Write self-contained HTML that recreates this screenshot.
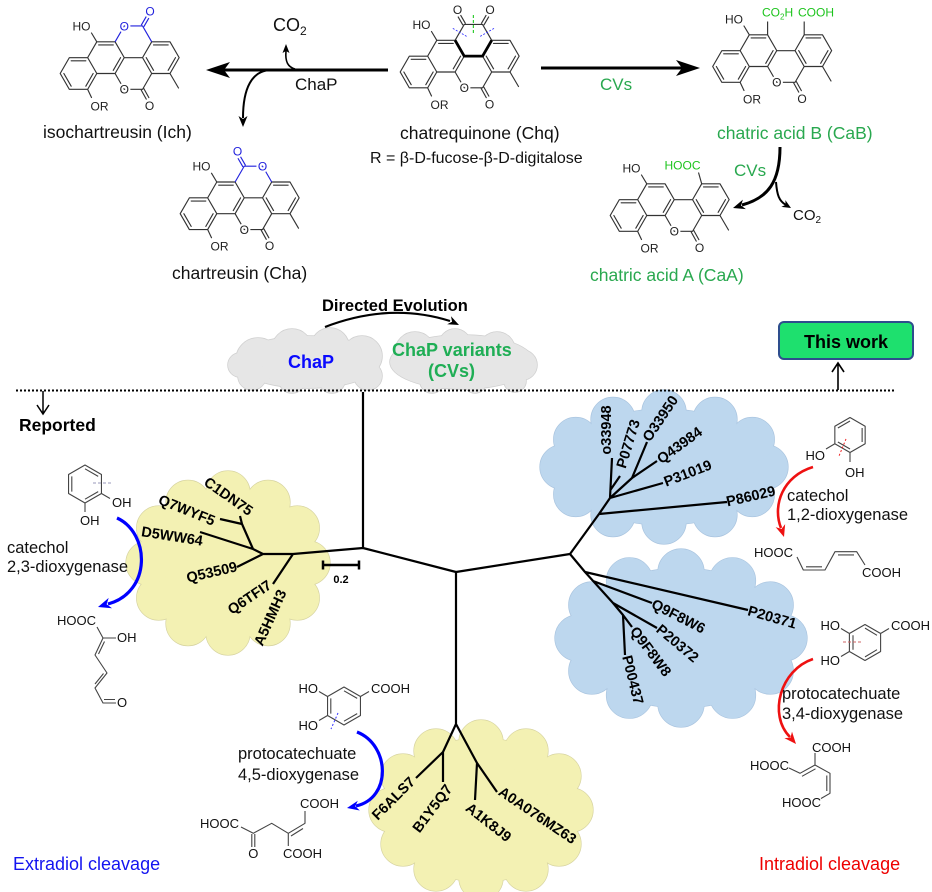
<!DOCTYPE html>
<html><head><meta charset="utf-8">
<style>
body{margin:0;background:#fff}
svg{display:block}
text{font-family:"Liberation Sans",Arial,sans-serif}
.tl{font-weight:bold;font-size:14.5px;fill:#000}
</style></head>
<body>
<svg width="932" height="892" viewBox="0 0 932 892" xmlns="http://www.w3.org/2000/svg">
<defs>
<g id="core" fill="none" stroke="#333" stroke-width="1.15" stroke-linecap="round" stroke-linejoin="round">
<path d="M-18.3,0 L-9.15,-15.85 L9.15,-15.85 L18.3,0 L9.15,15.85 L-9.15,15.85 Z M9.15,-15.85 L18.3,-31.7 L36.6,-31.7 L45.75,-15.85 L36.6,0 L18.3,0 M36.6,0 L45.75,15.85 L64.05,15.85 L73.2,0 L64.05,-15.85 L45.75,-15.85 M64.05,-15.85 L73.2,-31.7 L91.5,-31.7 L100.65,-15.85 L91.5,0 L73.2,0 M-7.32,-12.68 L7.32,-12.68 M14.64,0 L7.32,12.68 M-7.32,12.68 L-14.64,0 M20.13,-28.53 L34.77,-28.53 M42.09,-15.85 L34.77,-3.17 M75.03,-28.53 L89.67,-28.53 M96.99,-15.85 L89.67,-3.17 M75.03,-3.17 L67.71,-15.85 M18.3,-31.7 L13,-40.5 M9.15,15.85 L13,24 M91.5,0 L100,14.5 M65.35,15.1 L70.35,24.1 M62.75,16.6 L67.75,25.6"/>
</g>
<g id="coretext" font-size="12" fill="#222">
<text x="-6" y="-43">HO</text>
<text x="12" y="37">OR</text>
<text x="45.75" y="20.2" text-anchor="middle" stroke="#fff" stroke-width="4" paint-order="stroke" stroke-linejoin="round">O</text>
<text x="71" y="36.5" text-anchor="middle">O</text>
</g>
<g id="cloudGray">
<ellipse cx="308" cy="362" rx="72" ry="26"/>
<circle cx="258" cy="360" r="22"/><circle cx="292" cy="349" r="20"/><circle cx="330" cy="347" r="19"/><circle cx="362" cy="356" r="20"/><circle cx="368" cy="376" r="14"/><circle cx="332" cy="380" r="13"/><circle cx="292" cy="380" r="13"/><circle cx="252" cy="376" r="14"/><circle cx="240" cy="365" r="12"/>
<ellipse cx="462" cy="362" rx="72" ry="27"/>
<circle cx="415" cy="352" r="20"/><circle cx="455" cy="345" r="16"/><circle cx="497" cy="350" r="18"/><circle cx="522" cy="365" r="15"/><circle cx="515" cy="381" r="11"/><circle cx="475" cy="382" r="11"/><circle cx="432" cy="381" r="12"/>
</g>
<g id="cloudY1">
<ellipse cx="228" cy="563" rx="84" ry="74"/>
<circle cx="308" cy="563" r="22"/><circle cx="297.3" cy="598" r="22"/><circle cx="268" cy="623.6" r="22"/><circle cx="228" cy="633" r="22"/><circle cx="188" cy="623.6" r="22"/><circle cx="158.7" cy="598" r="22"/><circle cx="148" cy="563" r="22"/><circle cx="158.7" cy="528" r="22"/><circle cx="188" cy="502.4" r="22"/><circle cx="228" cy="493" r="22"/><circle cx="268" cy="502.4" r="22"/><circle cx="297.3" cy="528" r="22"/>
</g>
<g id="cloudY2">
<ellipse cx="481" cy="810" rx="94" ry="72"/>
<circle cx="571" cy="810" r="22"/><circle cx="559" cy="844" r="22"/><circle cx="526" cy="869" r="22"/><circle cx="481" cy="878" r="22"/><circle cx="436" cy="869" r="22"/><circle cx="403" cy="844" r="22"/><circle cx="391" cy="810" r="22"/><circle cx="403" cy="776" r="22"/><circle cx="436" cy="751" r="22"/><circle cx="481" cy="742" r="22"/><circle cx="526" cy="751" r="22"/><circle cx="559" cy="776" r="22"/>
</g>
<g id="cloudB1">
<ellipse cx="664" cy="467" rx="105" ry="58"/>
<circle cx="766" cy="467" r="22"/><circle cx="752.3" cy="494.5" r="22"/><circle cx="715" cy="514.6" r="22"/><circle cx="664" cy="522" r="22"/><circle cx="613" cy="514.6" r="22"/><circle cx="575.7" cy="494.5" r="22"/><circle cx="562" cy="467" r="22"/><circle cx="575.7" cy="439.5" r="22"/><circle cx="613" cy="419.4" r="22"/><circle cx="664" cy="412" r="22"/><circle cx="715" cy="419.4" r="22"/><circle cx="752.3" cy="439.5" r="22"/>
</g>
<g id="cloudB2">
<ellipse cx="681" cy="638" rx="106" ry="70"/>
<circle cx="784" cy="638" r="23"/><circle cx="770.2" cy="671" r="23"/><circle cx="732.5" cy="695.2" r="23"/><circle cx="681" cy="704" r="23"/><circle cx="629.5" cy="695.2" r="23"/><circle cx="591.8" cy="671" r="23"/><circle cx="578" cy="638" r="23"/><circle cx="591.8" cy="605" r="23"/><circle cx="629.5" cy="580.8" r="23"/><circle cx="681" cy="572" r="23"/><circle cx="732.5" cy="580.8" r="23"/><circle cx="770.2" cy="605" r="23"/>
</g>
</defs>

<rect width="932" height="892" fill="#fff"/>

<!-- ===== TOP REACTION SCHEME ===== -->
<g transform="translate(78.5,73.5)">
<use href="#core"/>
<path d="M36.6,-31.7 L45.75,-47.55 L64.05,-47.55 L73.2,-31.7 M62.75,-48.3 L67.75,-56.95 M65.35,-46.8 L70.35,-55.45" fill="none" stroke="#2222dd" stroke-width="1.15"/>
<use href="#coretext"/>
<text x="45.75" y="-43.25" text-anchor="middle" font-size="12" fill="#2222dd" stroke="#fff" stroke-width="4" paint-order="stroke">O</text>
<text x="71.5" y="-58" text-anchor="middle" font-size="12" fill="#2222dd">O</text>
</g>
<text x="43" y="138" font-size="17.5" fill="#111">isochartreusin (Ich)</text>

<g transform="translate(198.5,213.7)">
<use href="#core"/>
<path d="M36.6,-31.7 L45.75,-47.55 L64.05,-47.55 L73.2,-31.7 M47.05,-48.3 L42.05,-56.95 M44.45,-46.8 L39.45,-55.45" fill="none" stroke="#2222dd" stroke-width="1.15"/>
<use href="#coretext"/>
<text x="64.05" y="-43.25" text-anchor="middle" font-size="12" fill="#2222dd" stroke="#fff" stroke-width="4" paint-order="stroke">O</text>
<text x="39" y="-58" text-anchor="middle" font-size="12" fill="#2222dd">O</text>
</g>
<text x="172" y="279" font-size="17.5" fill="#111">chartreusin (Cha)</text>

<g transform="translate(418.5,72)">
<use href="#core"/>
<path d="M36.6,-31.7 L45.75,-47.55 L64.05,-47.55 L73.2,-31.7 M47.05,-48.3 L42.05,-56.95 M44.45,-46.8 L39.45,-55.45 M62.75,-48.3 L67.75,-56.95 M65.35,-46.8 L70.35,-55.45" fill="none" stroke="#333" stroke-width="1.15"/>
<path d="M36.6,-31.7 L45.75,-15.85 L64.05,-15.85 L73.2,-31.7" fill="none" stroke="#000" stroke-width="2.8" stroke-linejoin="round"/>
<path d="M54.9,-57 L54.9,-38" stroke="#33cc33" stroke-width="1.2" stroke-dasharray="3,2"/>
<path d="M34.3,-43.6 L48.1,-35.6 M61.7,-35.6 L75.5,-43.6" stroke="#3333ff" stroke-width="0.9" stroke-dasharray="2,1.5"/>
<use href="#coretext"/>
<text x="39" y="-58" text-anchor="middle" font-size="12" fill="#222">O</text>
<text x="71.5" y="-58" text-anchor="middle" font-size="12" fill="#222">O</text>
</g>
<text x="400" y="139" font-size="17.5" fill="#111">chatrequinone (Chq)</text>
<text x="370" y="163" font-size="16" fill="#111">R = β-D-fucose-β-D-digitalose</text>

<g transform="translate(731,66.5)">
<use href="#core"/>
<path d="M36.6,-31.7 L36.6,-45 M73.2,-31.7 L73.2,-45" fill="none" stroke="#333" stroke-width="1.15"/>
<use href="#coretext"/>
<text x="31" y="-50" font-size="12" fill="#1dc41d">CO<tspan font-size="8" dy="3">2</tspan><tspan dy="-3">H</tspan></text>
<text x="67" y="-50" font-size="12" fill="#1dc41d">COOH</text>
</g>
<text x="717" y="139" font-size="17.5" fill="#29a84f">chatric acid B (CaB)</text>

<g transform="translate(628.5,215.5)">
<use href="#core"/>
<path d="M73.2,-31.7 L70,-43" fill="none" stroke="#333" stroke-width="1.15"/>
<use href="#coretext"/>
<text x="72" y="-46" text-anchor="end" font-size="12" fill="#1dc41d">HOOC</text>
</g>
<text x="590" y="281" font-size="17.5" fill="#29a84f">chatric acid A (CaA)</text>

<line x1="388" y1="70" x2="222" y2="70" stroke="#000" stroke-width="3"/>
<polygon points="206,70 230,62 224,70 230,78" fill="#000"/>
<path d="M295,69 C288,67 285,62 286,51" fill="none" stroke="#000" stroke-width="1.6"/>
<polygon points="286,44 282.5,53 286,51 289.5,53" fill="#000"/>
<path d="M270,70 C252,71 243,88 243,118" fill="none" stroke="#000" stroke-width="2"/>
<polygon points="243,127 238.5,116 243,119 247.5,116" fill="#000"/>
<text x="273" y="31" font-size="18" fill="#111">CO<tspan font-size="12" dy="4">2</tspan></text>
<text x="295" y="90" font-size="17" fill="#111">ChaP</text>

<line x1="541" y1="68" x2="684" y2="68" stroke="#000" stroke-width="3"/>
<polygon points="700,68 676,60 682,68 676,76" fill="#000"/>
<text x="600" y="90" font-size="17" fill="#29a84f">CVs</text>

<path d="M780,147 C780,182 768,198 742,205" fill="none" stroke="#000" stroke-width="3"/>
<polygon points="733,208 742.9,199.65 741,205.5 745.9,209.15" fill="#000"/>
<path d="M776,182 C777,195 779,201 786,205" fill="none" stroke="#000" stroke-width="2"/>
<polygon points="791,208 785.35,200.1 785.6,204.85 781.35,206.9" fill="#000"/>
<text x="734" y="176" font-size="17" fill="#29a84f">CVs</text>
<text x="793" y="220" font-size="15" fill="#111">CO<tspan font-size="10" dy="3">2</tspan></text>

<!-- ===== CLOUDS ===== -->
<use href="#cloudGray" fill="#e6e6e6" stroke="#d0d0d0" stroke-width="1.5"/>
<use href="#cloudGray" fill="#e6e6e6" stroke="none"/>
<use href="#cloudY1" fill="#f3f1b3" stroke="#d6d3a0" stroke-width="1.2"/>
<use href="#cloudY1" fill="#f3f1b3" stroke="none"/>
<use href="#cloudY2" fill="#f3f1b3" stroke="#d6d3a0" stroke-width="1.2"/>
<use href="#cloudY2" fill="#f3f1b3" stroke="none"/>
<use href="#cloudB1" fill="#bdd7ee" stroke="#a9c4df" stroke-width="1.2"/>
<use href="#cloudB1" fill="#bdd7ee" stroke="none"/>
<use href="#cloudB2" fill="#bdd7ee" stroke="#a9c4df" stroke-width="1.2"/>
<use href="#cloudB2" fill="#bdd7ee" stroke="none"/>

<text x="322" y="311" font-size="16.5" font-weight="bold" fill="#000">Directed Evolution</text>
<path d="M325,327 Q390,302 450,321" fill="none" stroke="#000" stroke-width="2.2"/>
<polygon points="459,325 451,316.2 452.07,321.69 447.2,324.3" fill="#000"/>
<text x="288" y="368" font-size="18" font-weight="bold" fill="#0a0aff">ChaP</text>
<text x="392" y="356" font-size="18" font-weight="bold" fill="#1fae55">ChaP variants</text>
<text x="428" y="377" font-size="18" font-weight="bold" fill="#1fae55">(CVs)</text>

<line x1="16" y1="390.5" x2="895" y2="390.5" stroke="#000" stroke-width="2" stroke-dasharray="2,2"/>
<path d="M43,391 L43,414 M37,405 L43,414 L49,405" fill="none" stroke="#000" stroke-width="1.5"/>
<text x="19" y="431" font-size="17.5" font-weight="bold" fill="#000">Reported</text>
<path d="M838,390 L838,363 M832,372 L838,363 L844,372" fill="none" stroke="#000" stroke-width="1.6"/>
<rect x="779" y="322" width="134" height="37" rx="5" fill="#1ee06e" stroke="#2e4d8d" stroke-width="2"/>
<text x="846" y="348" font-size="18" font-weight="bold" text-anchor="middle" fill="#000">This work</text>

<!-- ===== TREE ===== -->
<path d="M363,392 L363,548 L293,554 L263,554 L237,567 M293,554 L273,584 M263,554 L253,549 L200,532 M253,549 L242,524 L220,519 M242,524 L240,516 M363,548 L456,572 L570,554 L599,514 L610,498 L612,458 M599,514 L727,502 M610,498 L663,483 M610,498 L632,478 L647,442 M632,478 L657,461 M610.4,490 L620,476 M570,554 L585,572 L748,610 M585,572 L613,603 L657,628 M593,581 L652,603 M613,603 L623,615 L632,627 M623,615 L625,655 M456,572 L456,724 L443,752 L416,778 M443,752 L443,782 M456,724 L477,763 L497,792 M477,763 L475,800" fill="none" stroke="#000" stroke-width="2.2" stroke-linejoin="round"/>
<path d="M323,565 L359,565 M323,560.5 L323,569.5 M359,560.5 L359,569.5" stroke="#000" stroke-width="2.5" fill="none"/>
<text x="341" y="583" font-size="11" font-weight="bold" text-anchor="middle">0.2</text>

<g class="tl" text-anchor="middle" dominant-baseline="central">
<text transform="translate(228,497) rotate(35)">C1DN75</text>
<text transform="translate(186.5,511) rotate(22)">Q7WYF5</text>
<text transform="translate(172,537) rotate(9)">D5WW64</text>
<text transform="translate(212,573) rotate(-13)">Q53509</text>
<text transform="translate(250,598) rotate(-34)">Q6TFI7</text>
<text transform="translate(271,618) rotate(-66)">A5HMH3</text>
<text transform="translate(607,430) rotate(-90)">o33948</text>
<text transform="translate(629,444) rotate(-73)">P07773</text>
<text transform="translate(661,419) rotate(-56)">O33950</text>
<text transform="translate(680,446) rotate(-36)">Q43984</text>
<text transform="translate(688,474) rotate(-21)">P31019</text>
<text transform="translate(751,497) rotate(-13)">P86029</text>
<text transform="translate(678,617) rotate(27)">Q9F8W6</text>
<text transform="translate(772,618) rotate(16)">P20371</text>
<text transform="translate(677,644) rotate(40)">P20372</text>
<text transform="translate(650,652) rotate(53)">Q9F8W8</text>
<text transform="translate(632,680) rotate(76)">P00437</text>
<text transform="translate(394,799) rotate(-45)">F6ALS7</text>
<text transform="translate(433,809) rotate(-53)">B1Y5Q7</text>
<text transform="translate(488,823) rotate(38)">A1K8J9</text>
<text transform="translate(537,816) rotate(34)">A0A076MZ63</text>
</g>

<!-- ===== LEFT SIDE CHEMISTRY ===== -->
<g fill="none" stroke="#444" stroke-width="1.1" stroke-linejoin="round">
<path d="M85,465 L101.45,474.5 L101.45,493.5 L85,503 L68.55,493.5 L68.55,474.5 Z M71.8,476.4 L71.8,491.6 M85,468.8 L98.2,476.4 M98.2,491.6 L85,499.2 M101.45,493.5 L110,498.5 M85,503 L85,512"/>
<path d="M97,627 L103,638 L95,655 L107,673 L95,688 L103,703 L116,703 M103,638 L116,638 M104.5,641.5 L98.5,654 M103.5,673.5 L95,684 M104,699.5 L115,699.5"/>
<path d="M344,687 L360.45,696.5 L360.45,715.5 L344,725 L327.55,715.5 L327.55,696.5 Z M330.8,698.4 L330.8,713.6 M344,690.8 L357.2,698.4 M357.2,713.6 L344,721.2 M327.55,696.5 L319,691.5 M327.55,715.5 L319,720.5 M360.45,696.5 L369,691.5"/>
<path d="M241,827 L253.3,833.3 L271.7,823.3 L288.3,833.3 L305,823.3 L305,811 M251.8,834 L251.8,847 M254.8,834 L254.8,847 M288.3,833.3 L288.3,846 M291,836 L303,828.5"/>
</g>
<path d="M93,483 L112,483" stroke="#9999bb" stroke-width="1" stroke-dasharray="3,2"/>
<path d="M338,713 L331,729" stroke="#3333ff" stroke-width="1" stroke-dasharray="2,2"/>
<g font-size="13" fill="#111">
<text x="112" y="507">OH</text>
<text x="80" y="525">OH</text>
<text x="57" y="625">HOOC</text>
<text x="117" y="642">OH</text>
<text x="117" y="707">O</text>
<text x="318" y="693" text-anchor="end">HO</text>
<text x="318" y="730" text-anchor="end">HO</text>
<text x="371" y="693">COOH</text>
<text x="200" y="828">HOOC</text>
<text x="300" y="808">COOH</text>
<text x="253.3" y="858" text-anchor="middle">O</text>
<text x="283" y="858">COOH</text>
</g>
<path d="M117,518 C150,533 152,592 108,604" fill="none" stroke="#0000ff" stroke-width="3.2"/>
<polygon points="98,607 108.7,597.9 106.6,604.3 112,608.3" fill="#0000ff"/>
<path d="M357,732 C390,745 392,798 356,806" fill="none" stroke="#0000ff" stroke-width="3.2"/>
<polygon points="347,808 357.8,800.7 355.2,806.3 359.8,810.5" fill="#0000ff"/>
<g font-size="16.5" fill="#111">
<text x="7" y="553">catechol</text>
<text x="7" y="572">2,3-dioxygenase</text>
<text x="238" y="759">protocatechuate</text>
<text x="238" y="780">4,5-dioxygenase</text>
</g>
<text x="13" y="870" font-size="18" fill="#1414f0">Extradiol cleavage</text>

<!-- ===== RIGHT SIDE CHEMISTRY ===== -->
<g fill="none" stroke="#444" stroke-width="1.1" stroke-linejoin="round">
<path d="M850,417.5 L865.16,426.25 L865.16,443.75 L850,452.5 L834.84,443.75 L834.84,426.25 Z M862.13,428 L862.13,442 M850,449 L837.87,442 M837.87,428 L850,421 M834.84,443.75 L826,449 M850,452.5 L850,462"/>
<path d="M797,557 L803.3,570 L825,570 L835,551.7 L856.7,551.7 L865,565 M806,566.8 L822,566.8 M838,554.9 L854,554.9"/>
<path d="M865,624.5 L880.6,633.5 L880.6,651.5 L865,660.5 L849.4,651.5 L849.4,633.5 Z M853,635.3 L853,649.7 M865,628.1 L877,635.3 M877,649.7 L865,656.9 M849.4,633.5 L841,628.5 M849.4,651.5 L841,656.5 M880.6,633.5 L889,628.5"/>
<path d="M789,768 L800,773.3 L815,765 L815,753 M815,765 L830,773.3 L830,793.3 L821,798.5 M802,776.3 L815.5,768.8 M826.8,775.5 L826.8,791"/>
</g>
<path d="M846,439 L839,456" stroke="#ee2222" stroke-width="1" stroke-dasharray="2,2"/>
<path d="M843,642 L861,642" stroke="#cc6666" stroke-width="1" stroke-dasharray="3,2"/>
<g font-size="13" fill="#111">
<text x="825" y="460" text-anchor="end">HO</text>
<text x="845" y="477">OH</text>
<text x="754" y="557">HOOC</text>
<text x="862" y="577">COOH</text>
<text x="840" y="630" text-anchor="end">HO</text>
<text x="840" y="665" text-anchor="end">HO</text>
<text x="891" y="630">COOH</text>
<text x="812" y="752">COOH</text>
<text x="750" y="770">HOOC</text>
<text x="782" y="807">HOOC</text>
</g>
<path d="M813,467 C783,476 772,505 781,528" fill="none" stroke="#ee1111" stroke-width="2.6"/>
<polygon points="784,537 775.65,527.1 781.5,529 785.15,524.1" fill="#ee1111"/>
<path d="M813,659 C780,670 768,715 790,737" fill="none" stroke="#ee1111" stroke-width="2.6"/>
<polygon points="796,744 784.4,738.15 790.5,737.6 792,731.65" fill="#ee1111"/>
<g font-size="16.5" fill="#111">
<text x="787" y="501">catechol</text>
<text x="787" y="520">1,2-dioxygenase</text>
<text x="782" y="699">protocatechuate</text>
<text x="782" y="719">3,4-dioxygenase</text>
</g>
<text x="759" y="870" font-size="18" fill="#ee0000">Intradiol cleavage</text>
</svg>
</body></html>
